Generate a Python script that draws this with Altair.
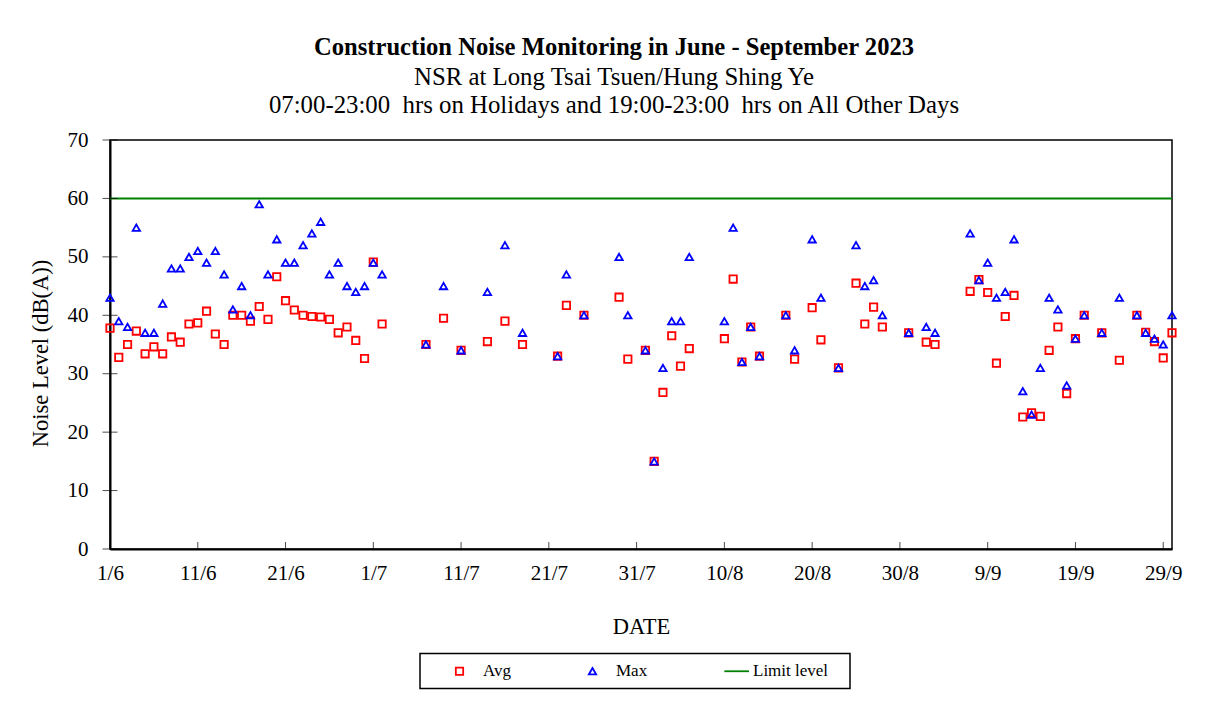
import altair as alt
import pandas as pd

# ---------------- data ----------------
dates = [
    "2023-06-01", "2023-06-02", "2023-06-03", "2023-06-04", "2023-06-05", "2023-06-06",
    "2023-06-07", "2023-06-08", "2023-06-09", "2023-06-10", "2023-06-11", "2023-06-12",
    "2023-06-13", "2023-06-14", "2023-06-15", "2023-06-16", "2023-06-17", "2023-06-18",
    "2023-06-19", "2023-06-20", "2023-06-21", "2023-06-22", "2023-06-23", "2023-06-24",
    "2023-06-25", "2023-06-26", "2023-06-27", "2023-06-28", "2023-06-29", "2023-06-30",
    "2023-07-01", "2023-07-02", "2023-07-07", "2023-07-09", "2023-07-11", "2023-07-14",
    "2023-07-16", "2023-07-18", "2023-07-22", "2023-07-23", "2023-07-25", "2023-07-29",
    "2023-07-30",
    "2023-08-01", "2023-08-02", "2023-08-03", "2023-08-04", "2023-08-05", "2023-08-06",
    "2023-08-10", "2023-08-11", "2023-08-12", "2023-08-13", "2023-08-14", "2023-08-17",
    "2023-08-18", "2023-08-20", "2023-08-21", "2023-08-23", "2023-08-25", "2023-08-26",
    "2023-08-27", "2023-08-28", "2023-08-31",
    "2023-09-02", "2023-09-03", "2023-09-07", "2023-09-08", "2023-09-09", "2023-09-10",
    "2023-09-11", "2023-09-12", "2023-09-13", "2023-09-14", "2023-09-15", "2023-09-16",
    "2023-09-17", "2023-09-18", "2023-09-19", "2023-09-20", "2023-09-22", "2023-09-24",
    "2023-09-26", "2023-09-27", "2023-09-28", "2023-09-29", "2023-09-30",
]
avg = [
    37.8, 32.8, 35.0, 37.3, 33.4, 34.6, 33.4, 36.3, 35.4, 38.5, 38.7, 40.7,
    36.8, 35.0, 40.0, 40.0, 39.0, 41.5, 39.3, 46.6, 42.5, 40.9, 40.0, 39.8,
    39.7, 39.3, 37.0, 38.0, 35.7, 32.6,
    49.1, 38.5, 35.0, 39.5, 34.0, 35.5, 39.0, 35.0, 33.0, 41.7, 40.0, 43.1, 32.5,
    34.0, 15.0, 26.8, 36.5, 31.3, 34.3, 36.0, 46.2, 32.0, 38.0, 33.0, 40.0,
    32.5, 41.3, 35.8, 31.0, 45.5, 38.5, 41.4, 38.0, 37.0,
    35.4, 35.0, 44.1, 46.1, 43.9, 31.8, 39.8, 43.4, 22.6, 23.3, 22.7, 34.0,
    38.0, 26.6, 36.0, 40.0, 37.0, 32.3, 40.0, 37.1, 35.5, 32.7, 37.0,
]
mx = [
    43, 39, 38, 55, 37, 37, 42, 48, 48, 50, 51, 49,
    51, 47, 41, 45, 40, 59, 47, 53, 49, 49, 52, 54,
    56, 47, 49, 45, 44, 45,
    49, 47, 35, 45, 34, 44, 52, 37, 33, 47, 40, 50, 40,
    34, 15, 31, 39, 39, 50, 39, 55, 32, 38, 33, 40,
    34, 53, 43, 31, 52, 45, 46, 40, 37,
    38, 37, 54, 46, 49, 43, 44, 53, 27, 23, 31, 43,
    41, 28, 36, 40, 37, 43, 40, 37, 36, 35, 40,
]
limit_level = [60]
series_names = ["Avg", "Max", "Limit level"]
series_colors = ["#ff0000", "#0000ff", "#008000"]
x_tick_dates = [
    "2023-06-01", "2023-06-11", "2023-06-21", "2023-07-01", "2023-07-11", "2023-07-21",
    "2023-07-31", "2023-08-10", "2023-08-20", "2023-08-30", "2023-09-09", "2023-09-19",
    "2023-09-29",
]
y_ticks = [0, 10, 20, 30, 40, 50, 60, 70]

title_text = "Construction Noise Monitoring in June - September 2023"
subtitle_text = [
    "NSR at Long Tsai Tsuen/Hung Shing Ye",
    "07:00-23:00\u00a0 hrs on Holidays and 19:00-23:00\u00a0 hrs on All Other Days",
]

# ---------------- tables ----------------
n = len(dates)
points_df = pd.DataFrame({
    "date": dates + dates,
    "value": avg + mx,
    "series": ["Avg"] * n + ["Max"] * n,
})
limit_df = pd.DataFrame({"series": ["Limit level"], "value": limit_level})
xt_df = pd.DataFrame({"date": x_tick_dates})
yt_df = pd.DataFrame({"value": y_ticks})

W, H = 1062, 409
FONT = "Liberation Serif"


def dt(s):
    y, m, d = (int(p) for p in s.split("-"))
    return alt.DateTime(year=y, month=m, date=d, utc=True)


x_scale = alt.Scale(type="utc", domain=[dt("2023-06-01"), dt("2023-09-30")])
y_scale = alt.Scale(domain=[0, 70], nice=False)

legend = alt.Legend(
    title="__", titleOrient="left", titleFont=FONT, titleFontSize=17, titlePadding=5,
    titleOpacity=0,
    orient="none", legendX=310, legendY=513.5, direction="horizontal",
    strokeColor="black", padding=9, fillColor="white",
    symbolSize=54, symbolStrokeWidth=1.8,
    labelFont=FONT, labelFontSize=17, labelColor="black", labelOffset=15,
    columnPadding=72,
    labelExpr="datum.label == 'Limit level' ? 'Limit level\u2800' : datum.label",
)

color = alt.Color("series:N", scale=alt.Scale(domain=series_names, range=series_colors), legend=legend)
shape = alt.Shape(
    "series:N",
    scale=alt.Scale(domain=series_names, range=["square", "triangle-up", "M-1.4,0L5.3,0"]),
    legend=legend,
)

x_enc = alt.X(
    "date:T", scale=x_scale,
    axis=alt.Axis(
        values=[dt(s) for s in x_tick_dates], format="%-d/%-m", title="DATE",
        labelPadding=13, titlePadding=32, labelFlush=False, labelOverlap=False,
    ),
)
y_enc = alt.Y(
    "value:Q", scale=y_scale,
    axis=alt.Axis(values=y_ticks, title="Noise Level (dB(A))", labelPadding=22,
                  titlePadding=15, titleY=213),
)

pts = alt.Chart(points_df).mark_point(filled=False, size=54, strokeWidth=1.8, opacity=1).encode(
    x=x_enc, y=y_enc, color=color, shape=shape
)

rule = alt.Chart(limit_df).mark_rule(strokeWidth=2).encode(
    y=alt.Y("value:Q", scale=y_scale), color=color
)

xticks = alt.Chart(xt_df).mark_tick(orient="vertical", size=7, thickness=1, color="black").encode(
    x=alt.X("date:T", scale=x_scale), y=alt.value(H - 3.5)
)
yticks = alt.Chart(yt_df).mark_tick(orient="horizontal", size=15, thickness=1, color="black").encode(
    y=alt.Y("value:Q", scale=y_scale), x=alt.value(0)
)

chart = (
    alt.layer(pts, rule, xticks, yticks)
    .properties(
        width=W, height=H,
        autosize=alt.AutoSizeParams(type="none"),
        padding={"left": 102, "top": 132, "right": 32, "bottom": 147},
        background="white",
        title=alt.TitleParams(
            text=title_text, subtitle=subtitle_text,
            font=FONT, fontSize=24.6, fontWeight="bold", color="black",
            subtitleFont=FONT, subtitleFontSize=24.8, subtitleColor="black",
            subtitleLineHeight=28.5, subtitlePadding=4,
            anchor="middle", dx=-27, offset=10,
        ),
    )
    .configure_view(stroke="black", strokeWidth=1.5)
    .configure_axis(
        labelFont=FONT, labelFontSize=21, labelColor="black",
        titleFont=FONT, titleFontSize=22.5, titleColor="black", titleFontWeight="normal",
        domainColor="black", domainWidth=2, grid=False, ticks=False,
    )
    .configure_legend(strokeWidth=1.5)
)

chart.save("out.html", embed_options={"renderer": "svg", "actions": False})
